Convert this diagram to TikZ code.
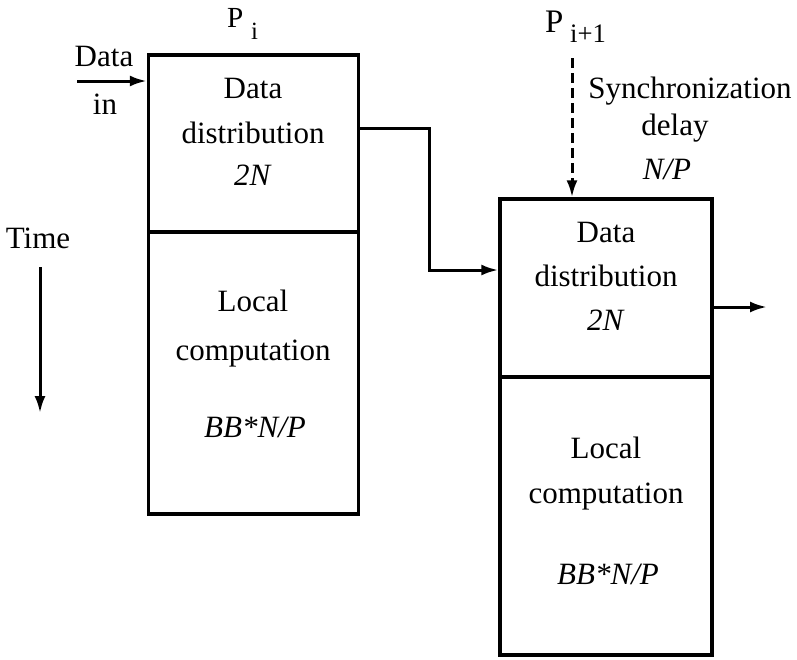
\documentclass[tikz,border=0pt]{standalone}
\usepackage{fontspec}
\setmainfont{Liberation Serif}
\usetikzlibrary{arrows.meta}
\begin{document}
\begin{tikzpicture}[x=1pt,y=-1pt,
  txt/.style={inner sep=0pt,font=\fontsize{31}{36}\selectfont},
  lbl/.style={inner sep=0pt,anchor=base west,font=\fontsize{31}{36}\selectfont},
  box/.style={draw,line width=3.4pt,inner sep=0pt},
  arr/.style={line width=3pt,-{Latex[length=17pt,width=11pt]}},
  dsh/.style={dash pattern=on 10pt off 5pt}]
\useasboundingbox (0,0) rectangle (797,659);
% boxes
\node[box,minimum width=210pt,minimum height=177pt] (ld) at (253.5,143.5) {};
\node[box,minimum width=210pt,minimum height=282pt] (lc) at (253.5,373) {};
\node[box,minimum width=212pt,minimum height=178pt] (rd) at (606,288) {};
\node[box,minimum width=212pt,minimum height=278pt] (rc) at (606,516) {};
% texts in left box
\node[txt] (l1) at (253,88) {Data};
\node[txt] (l2) at (253,133) {distribution};
\node[txt] (l3) at (253,175) {\textit{2N}};
\node[txt] (l4) at (253,301) {Local};
\node[txt] (l5) at (253,354) {computation};
\node[txt] (l6) at (255,427) {\textit{BB*N/P}};
% texts in right box
\node[txt] (r1) at (606,232) {Data};
\node[txt] (r2) at (606,276) {distribution};
\node[txt] (r3) at (606,320) {\textit{2N}};
\node[txt] (r4) at (606,448) {Local};
\node[txt] (r5) at (606,497) {computation};
\node[txt] (r6) at (608,574) {\textit{BB*N/P}};
% labels
\node[lbl] (pi) at (227,27) {\scalebox{0.94}{P}};
\node[lbl] (pisub) at (251,39) {\scalebox{0.8}{i}};
\node[lbl] (pi1) at (545,32) {\scalebox{1.06}{P}};
\node[lbl] (pi1sub) at (570,42) {\scalebox{0.86}{i+1}};
\node[txt] (d1) at (104,56) {Data};
\node[txt] (d2) at (105,104) {in};
\node[txt] (s1) at (690,91) {Synchronization};
\node[txt] (s2) at (675,128) {delay};
\node[txt] (s3) at (667,169) {\textit{N/P}};
\node[txt] (tm) at (38,238) {Time};
% coordinates
\coordinate (din) at (77,81);
\coordinate (mid) at (429,200);
\coordinate (stop) at (572,58);
\coordinate (out) at (767,307);
\coordinate (t1) at (40,267);
\coordinate (t2) at (40,413);
% connectors
\draw[arr] (din) -- (din -| ld.west);
\draw[arr] ([yshift=15.5pt]ld.east) -| (mid) |- ([yshift=18pt]rd.west);
\draw[arr,dsh] (stop) -- (stop |- rd.north);
\draw[arr] ([yshift=-19pt]rd.east) -- (out);
\draw[arr] (t1) -- (t2);
\end{tikzpicture}
\end{document}
